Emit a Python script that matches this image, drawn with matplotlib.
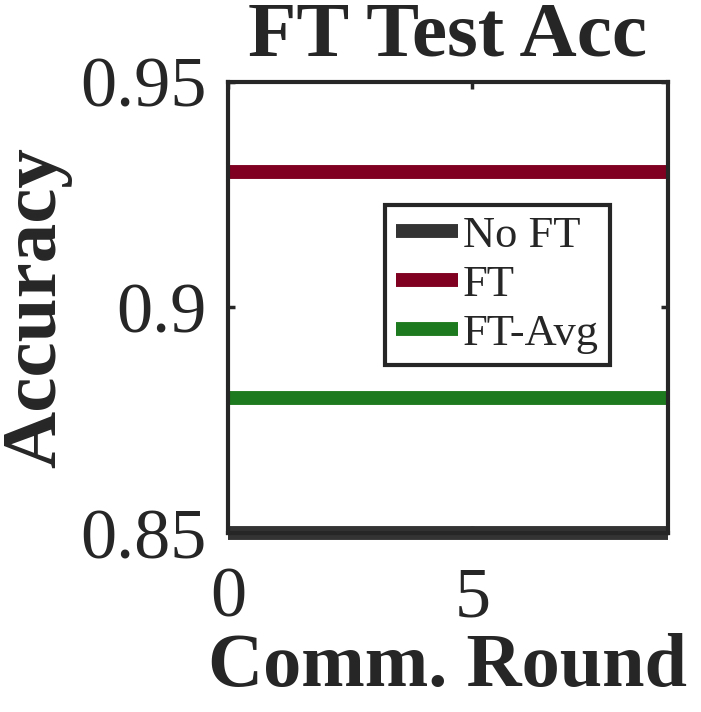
import matplotlib
matplotlib.use('Agg')
import matplotlib.pyplot as plt
import numpy as np

# data
rounds = np.arange(0, 10)
no_ft = [0.85] * 10
ft = [0.93] * 10
ft_avg = [0.88] * 10
series_names = ['No FT', 'FT', 'FT-Avg']
series_colors = ['#333333', '#7f0020', '#1e7a1e']
xticks = [0, 5]
yticks = [0.85, 0.9, 0.95]
ytick_labels = ['0.85', '0.9', '0.95']

plt.rcParams['font.family'] = ['Liberation Serif', 'DejaVu Serif']
txt_col = '#262626'

fig = plt.figure(figsize=(7.01, 7.12), dpi=100)
ax = fig.add_axes([0.325, 0.2514, 0.628, 0.634])

for vals, name, col in zip([no_ft, ft, ft_avg], series_names, series_colors):
	ax.plot(rounds, vals, color=col, linewidth=10, label=name, clip_on=False,
		solid_capstyle='butt')

ax.set_xlim(0, 9)
ax.set_ylim(0.85, 0.95)
ax.set_xticks(xticks)
ax.set_yticks(yticks)
ax.set_yticklabels(ytick_labels)
ax.tick_params(direction='in', labelsize=52, length=5, width=2.5, color=txt_col,
	labelcolor=txt_col, top=True, right=True)
ax.tick_params(axis='y', pad=15)
ax.tick_params(axis='x', pad=24)
for s in ax.spines.values():
	s.set_linewidth(3)
	s.set_color(txt_col)

ax.set_title('FT Test Acc', fontsize=57, fontweight='bold', pad=19, color=txt_col)
ax.set_ylabel('Accuracy', fontsize=57, fontweight='bold', labelpad=6, color=txt_col)
# pulled up a little so the whole label box stays inside the figure
ax.set_xlabel('Comm. Round', fontsize=55, fontweight='bold', labelpad=1, color=txt_col)

leg = ax.legend(loc='upper left', bbox_to_anchor=(0.357, 0.727), borderaxespad=0,
	fontsize=32, handlelength=1.4, handletextpad=0.1, labelspacing=0.2,
	borderpad=0.25, fancybox=False, framealpha=1)
leg.get_frame().set_edgecolor(txt_col)
leg.get_frame().set_linewidth(3)
for t in leg.get_texts():
	t.set_color(txt_col)

plt.savefig('out.png', dpi=100)
plt.close()
